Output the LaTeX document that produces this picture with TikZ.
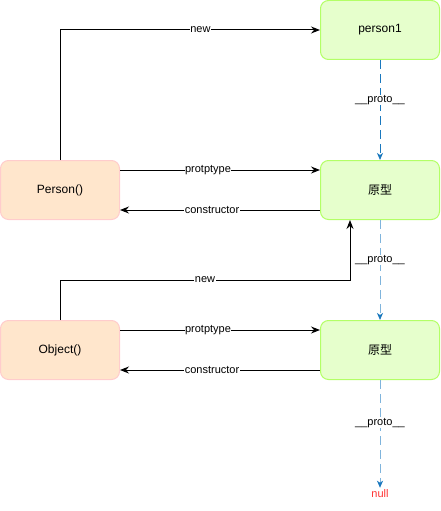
\documentclass[tikz,border=0pt]{standalone}
\usepackage{fontspec}
\setmainfont{Liberation Sans}
\newfontfamily\cjk{Noto Sans CJK SC}
\usetikzlibrary{arrows.meta}
\definecolor{objfill}{HTML}{E6FFCC}
\definecolor{objline}{HTML}{B3FF66}
\definecolor{fnfill}{HTML}{FFE6CC}
\definecolor{fnline}{HTML}{FFCCCC}
\definecolor{protoblue}{HTML}{1A78BE}
\definecolor{protolight}{HTML}{7FB4DC}
\definecolor{nullred}{HTML}{FF3333}
\tikzset{
instance/.style={
	draw=objline, fill=objfill, rounded corners=8pt, line width=1pt,
	minimum width=119pt, minimum height=59pt, font=\fontsize{12}{14}\selectfont},
ctor/.style={
	draw=fnline, fill=fnfill, rounded corners=8pt, line width=1pt,
	minimum width=119pt, minimum height=59pt, font=\fontsize{12}{14}\selectfont},
link/.style={draw, line width=1pt, -{Stealth[length=9pt,width=7pt,inset=3pt]}},
chain/.style={draw=#1, line width=1pt, dash pattern=on 9pt off 5pt,
	-{Stealth[length=7pt,width=6pt,inset=2pt,color=protoblue]}},
chain/.default=protoblue,
edgelabel/.style={fill=white, inner sep=0.5pt, font=\fontsize{11}{13}\selectfont}
}

\begin{document}
\begin{tikzpicture}[x=1pt, y=-1pt]
	\useasboundingbox (0,0) rectangle (441,511);
	\node[instance] (person1) at (380,30) {person1};
	\node[instance] (protoA) at (380,190) {\cjk 原型};
	\node[instance] (protoB) at (380,350) {\cjk 原型};
	\node[ctor] (Person) at (60,190) {Person()};
	\node[ctor] (Object) at (60,350) {Object()};
	\node[text=nullred, inner sep=2pt, font=\fontsize{11}{13}\selectfont] (null) at (380,494) {null};

	\draw[link] (Person.north) |- node[edgelabel, pos=0.77] {new} (person1.west);
	\draw[link] ([yshift=20pt]Person.east) -- node[edgelabel, pos=0.44] {protptype} ([yshift=20pt]protoA.west);
	\draw[link] ([yshift=-20pt]protoA.west) -- node[edgelabel, pos=0.54] {constructor} ([yshift=-20pt]Person.east);
	\draw[link] (Object.north) -- ++(0,-40) -| node[edgelabel, pos=0.25] {new} ([xshift=-30pt]protoA.south);
	\draw[link] ([yshift=20pt]Object.east) -- node[edgelabel, pos=0.44] {protptype} ([yshift=20pt]protoB.west);
	\draw[link] ([yshift=-20pt]protoB.west) -- node[edgelabel, pos=0.54] {constructor} ([yshift=-20pt]Object.east);

	\draw[chain] (person1.south) -- node[edgelabel, pos=0.4] {\_\_proto\_\_} (protoA.north);
	\draw[chain=protolight] (protoA.south) -- node[edgelabel, pos=0.4] {\_\_proto\_\_} (protoB.north);
	\draw[chain=protolight] (protoB.south) -- node[edgelabel, pos=0.4] {\_\_proto\_\_} (null.north);
\end{tikzpicture}
\end{document}
